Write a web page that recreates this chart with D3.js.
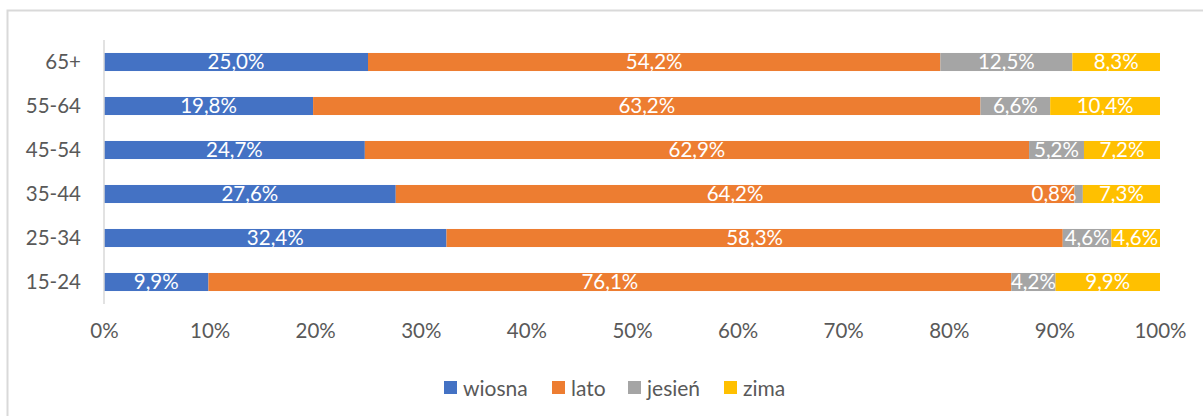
<!DOCTYPE html>
<html>
<head>
<meta charset="utf-8">
<script src="https://cdn.jsdelivr.net/npm/d3@7"></script>
<style>
  body { margin: 0; background: #fff; }
  svg text { font-family: Lato, "Open Sans", sans-serif; }
</style>
</head>
<body>
<div id="chart"></div>
<script>
// age groups, top to bottom
var groups = ["65+", "55-64", "45-54", "35-44", "25-34", "15-24"];
var seasons = ["wiosna", "lato", "jesień", "zima"];
var colors = ["#4472c4", "#ed7d31", "#a5a5a5", "#ffc000"];

var wiosna = [25.0, 19.8, 24.7, 27.6, 32.4, 9.9];
var lato   = [54.2, 63.2, 62.9, 64.2, 58.3, 76.1];
var jesien = [12.5, 6.6, 5.2, 0.8, 4.6, 4.2];
var zima   = [8.3, 10.4, 7.2, 7.3, 4.6, 9.9];

var xTicks = [0, 10, 20, 30, 40, 50, 60, 70, 80, 90, 100];

var W = 1203, H = 416;
var fs = "20.5px";
var svg = d3.select("#chart").append("svg")
    .attr("width", W)
    .attr("height", H);

// chart frame (right/bottom edges cut off in the original)
svg.append("rect")
    .attr("x", 7.5).attr("y", 10.5)
    .attr("width", W + 20).attr("height", H + 20)
    .attr("fill", "#fff")
    .attr("stroke", "#d9d9d9")
    .attr("stroke-width", 2);

var x = d3.scaleLinear().domain([0, 100]).range([104, 1160]);
var y = d3.scaleBand().domain(groups).range([40, 304]).paddingInner(0.59).paddingOuter(0.295);

var rows = groups.map(function(g, i) {
    return { group: g, vals: [wiosna[i], lato[i], jesien[i], zima[i]] };
});

var rowG = svg.selectAll(".row")
    .data(rows)
    .enter()
    .append("g")
    .attr("class", "row");

rowG.each(function(d) {
    var g = d3.select(this);
    var total = d3.sum(d.vals);
    var acc = 0;
    var segs = d.vals.map(function(v, k) {
        var s = { start: acc / total * 100, end: (acc + v) / total * 100, v: v, k: k };
        acc += v;
        return s;
    });
    g.selectAll("rect")
        .data(segs)
        .enter()
        .append("rect")
        .attr("x", function(s) { return x(s.start); })
        .attr("y", y(d.group))
        .attr("width", function(s) { return x(s.end) - x(s.start); })
        .attr("height", y.bandwidth())
        .attr("fill", function(s) { return colors[s.k]; });
    // too-narrow segments get their label pushed to the left, like Excel does
    var narrow = function(s) { return x(s.end) - x(s.start) < 20; };
    g.selectAll("text")
        .data(segs)
        .enter()
        .append("text")
        .attr("x", function(s) { return narrow(s) ? x(s.start) + 2 : (x(s.start) + x(s.end)) / 2; })
        .attr("y", y(d.group) + y.bandwidth() / 2)
        .attr("dy", "0.36em")
        .attr("text-anchor", function(s) { return narrow(s) ? "end" : "middle"; })
        .attr("fill", "#fff")
        .style("font-size", fs)
        .text(function(s) { return s.v.toFixed(1).replace(".", ",") + "%"; });
});

// category axis line
svg.append("line")
    .attr("x1", 104).attr("x2", 104)
    .attr("y1", 40).attr("y2", 304)
    .attr("stroke", "#d9d9d9")
    .attr("stroke-width", 1.5);

// category labels
svg.selectAll(".ylab")
    .data(groups)
    .enter()
    .append("text")
    .attr("class", "ylab")
    .attr("x", 81)
    .attr("y", function(g) { return y(g) + y.bandwidth() / 2; })
    .attr("dy", "0.36em")
    .attr("text-anchor", "end")
    .attr("fill", "#595959")
    .style("font-size", fs)
    .text(function(g) { return g; });

// value axis labels
var xAxis = d3.axisBottom(x).tickValues(xTicks).tickSize(0).tickPadding(0)
    .tickFormat(function(t) { return t + "%"; });
var xg = svg.append("g").attr("transform", "translate(0,331)").call(xAxis);
xg.select(".domain").remove();
xg.selectAll("text")
    .attr("fill", "#595959")
    .attr("dy", "0.36em")
    .style("font-size", fs)
    .style("font-family", "Lato, 'Open Sans', sans-serif");

// legend
var legX = [444, 552, 628, 724];
var leg = svg.selectAll(".leg")
    .data(seasons)
    .enter()
    .append("g")
    .attr("class", "leg")
    .attr("transform", function(s, i) { return "translate(" + legX[i] + ",381)"; });
leg.append("rect")
    .attr("width", 13).attr("height", 13)
    .attr("fill", function(s, i) { return colors[i]; });
leg.append("text")
    .attr("x", 19).attr("y", 7)
    .attr("dy", "0.36em")
    .attr("fill", "#595959")
    .style("font-size", "21px")
    .text(function(s) { return s; });
</script>
</body>
</html>
